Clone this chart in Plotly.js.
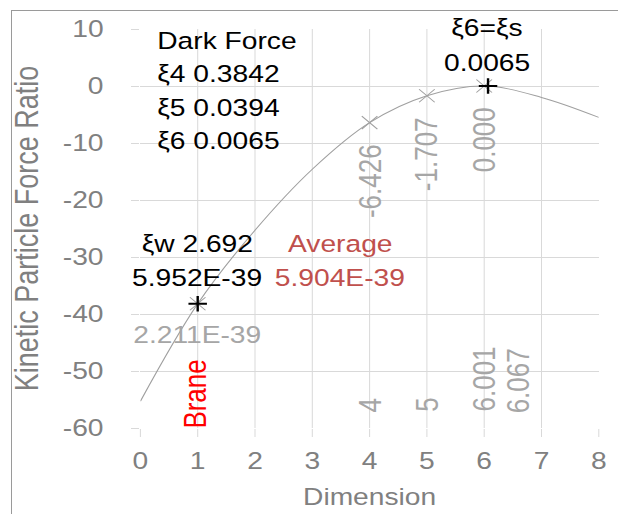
<!DOCTYPE html>
<html><head><meta charset="utf-8">
<script src="https://cdn.plot.ly/plotly-3.0.1.min.js"></script>
<style>
html,body{margin:0;padding:0;background:#fff;}
#wrap{position:relative;width:618px;height:514px;overflow:hidden;}
#frame{position:absolute;left:11px;top:10px;width:700px;height:600px;border-left:1px solid #9a9a9a;border-top:1px solid #9a9a9a;pointer-events:none;}
#chart{position:absolute;left:0;top:0;width:515px;height:514px;transform:scaleX(1.2);transform-origin:0 0;}
</style></head>
<body><div id="wrap"><div id="chart"></div><div id="frame"></div></div>
<script>
// Curve
var curveX = [0, 1, 2, 3, 4, 5, 6, 7, 8];
var curveY = [-55.3, -38.2, -25.3, -14.6, -6.426, -1.707, 0.0, -2.0, -5.5];
// Gray x markers
var markX = [1, 4, 5, 6];
var markY = [-38.2, -6.426, -1.707, 0.0];
// Black + markers
var plusX = [1, 6.067];
var plusY = [-38.2, 0.0];
// Axis ticks
var xTickVals = [0, 1, 2, 3, 4, 5, 6, 7, 8];
var xTickText = ['0', '1', '2', '3', '4', '5', '6', '7', '8'];
var yTickVals = [-60, -50, -40, -30, -20, -10, 0, 10];
var yTickText = ['-60', '-50', '-40', '-30', '-20', '-10', '0', '10'];
// Text labels
var darkForce = ['Dark Force', 'ξ4 0.3842', 'ξ5 0.0394', 'ξ6 0.0065'];
var peakLabel = ['ξ6=ξs', '0.0065'];
var wLabel = ['ξw 2.692', '5.952E-39'];
var avgLabel = ['Average', '5.904E-39'];
var valLabels = ['-6.426', '-1.707', '0.000'];
var dimLabels = ['4', '5', '6.001', '6.067'];

var gray = '#808080', lgray = '#a6a6a6', grid = '#d9d9d9';
var F = '"Liberation Sans", Arial, sans-serif';
var FS = 23.5;   // horizontal text
var FR = 26;     // rotated text

var traces = [
  {x: curveX, y: curveY, mode: 'lines', line: {color: '#a0a0a0', width: 1, shape: 'spline', smoothing: 1}, hoverinfo: 'none'},
  {x: markX, y: markY, mode: 'markers', marker: {symbol: 'x-thin-open', size: 13, color: '#a0a0a0', line: {color: '#a0a0a0', width: 1}}, hoverinfo: 'none'},
  {x: plusX, y: plusY, mode: 'markers', marker: {symbol: 'cross-thin-open', size: 11, color: '#000', line: {color: '#000', width: 2}}, hoverinfo: 'none'}
];

var ann = [];
function A(x, y, t, c, o) {
  var a = {x: x, y: y, xref: 'x', yref: 'y', text: t, showarrow: false, font: {family: F, size: FS, color: c}};
  for (var k in o) a[k] = o[k];
  if (a.textangle) a.font.size = FR;
  ann.push(a);
}
var dfY = [7.9, 2.1, -3.9, -9.7];
for (var i = 0; i < darkForce.length; i++) A(0.26, dfY[i], darkForce[i], '#000', {xanchor: 'left'});
A(6.05, 10, peakLabel[0], '#000', {yshift: 1});
A(6.05, 4.0, peakLabel[1], '#000', {});
A(0.985, -27.8, wLabel[0], '#000', {});
A(0.99, -33.6, wLabel[1], '#000', {});
A(3.49, -27.8, avgLabel[0], '#c0504d', {});
A(3.47, -33.6, avgLabel[1], '#c0504d', {});
A(0.99, -43.6, '2.211E-39', lgray, {});
A(0.96, -54.0, 'Brane', '#ff0000', {textangle: -90});
var vX = [4.01, 5.0, 6.01], vY = [-16.6, -12.0, -9.35];
for (var j = 0; j < valLabels.length; j++) A(vX[j], vY[j], valLabels[j], lgray, {textangle: -90});
var dX = [4.01, 5.0, 6.0, 6.59], dY = [-55.95, -55.95, -51.4, -51.7];
for (var m = 0; m < dimLabels.length; m++) A(dX[m], dY[m], dimLabels[m], lgray, {textangle: -90});

var layout = {
  width: 515, height: 514,
  margin: {l: 117, r: 16, t: 29, b: 86},
  paper_bgcolor: 'rgba(0,0,0,0)', plot_bgcolor: '#fff',
  showlegend: false,
  font: {family: F, size: FS, color: gray},
  xaxis: {range: [0, 8], tickmode: 'array', tickvals: xTickVals, ticktext: xTickText,
          showgrid: true, gridcolor: grid, gridwidth: 0.84,
          zeroline: false, showline: false, ticks: 'outside', ticklen: 8, tickcolor: grid, tickwidth: 0.84,
          ticklabelstandoff: 4,
          tickfont: {family: F, size: FS, color: gray},
          title: {text: 'Dimension', font: {family: F, size: FS, color: gray}, standoff: 15}},
  yaxis: {range: [-60, 10], tickmode: 'array', tickvals: yTickVals, ticktext: yTickText,
          showgrid: true, gridcolor: grid, gridwidth: 1,
          zeroline: false, showline: false, ticks: 'outside', ticklen: 7, tickcolor: grid,
          ticklabelstandoff: 18,
          tickfont: {family: F, size: FS, color: gray},
          title: {text: 'Kinetic Particle Force Ratio', font: {family: F, size: 27, color: gray}, standoff: 12}},
  annotations: ann
};
Plotly.newPlot('chart', traces, layout, {displayModeBar: false, staticPlot: true});
</script></body></html>
